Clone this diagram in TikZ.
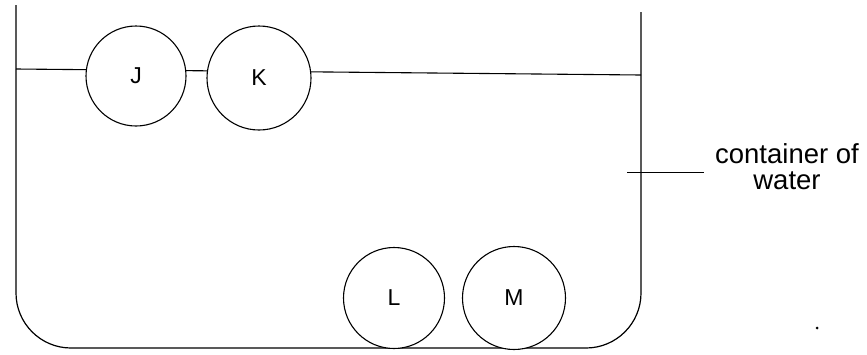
\documentclass[tikz,border=0pt]{standalone}
\usepackage{fontspec}
\setmainfont{Liberation Sans}
\usepackage{tikz}
\usetikzlibrary{calc}
\usetikzlibrary{positioning}
\tikzstyle{wall} = [line width=1.2pt, rounded corners=55pt]
\tikzstyle{ball} = [draw, circle, fill=white, line width=1.1pt, inner sep=0pt, font=\fontsize{23}{24}\selectfont]
\tikzstyle{tag} = [align=center, inner sep=4pt, font=\fontsize{27.5}{26}\selectfont]

\begin{document}
\begin{tikzpicture}[x=1pt, y=-1pt]
    \useasboundingbox (0,0) rectangle (867,354);
    \coordinate (wall_lt) at (16,5);
    \coordinate (wall_rt) at (641,12);
    \draw[wall] (wall_lt) -- (16,348) -- (641,348) -- (wall_rt);

    \coordinate (water_l) at (16,69);
    \coordinate (water_r) at (641,75);
    \draw[line width=1.1pt] (water_l) -- (water_r);

    \node[ball, minimum size=100pt] (ball_j) at (136,76) {J};
    \node[ball, minimum size=104pt] (ball_k) at (259,78) {K};
    \node[ball, minimum size=101pt] (ball_l) at (394,298) {L};
    \node[ball, minimum size=103pt] (ball_m) at (514,298) {M};

    \node[tag] (tag_box) at (787,167) {container of\\water};
    \coordinate (lead) at (627,172);
    \draw[line width=1pt] (lead) -- (704,172);

    \node[circle, fill, inner sep=0pt, minimum size=3pt] (speck) at (817,328) {};
\end{tikzpicture}
\end{document}
